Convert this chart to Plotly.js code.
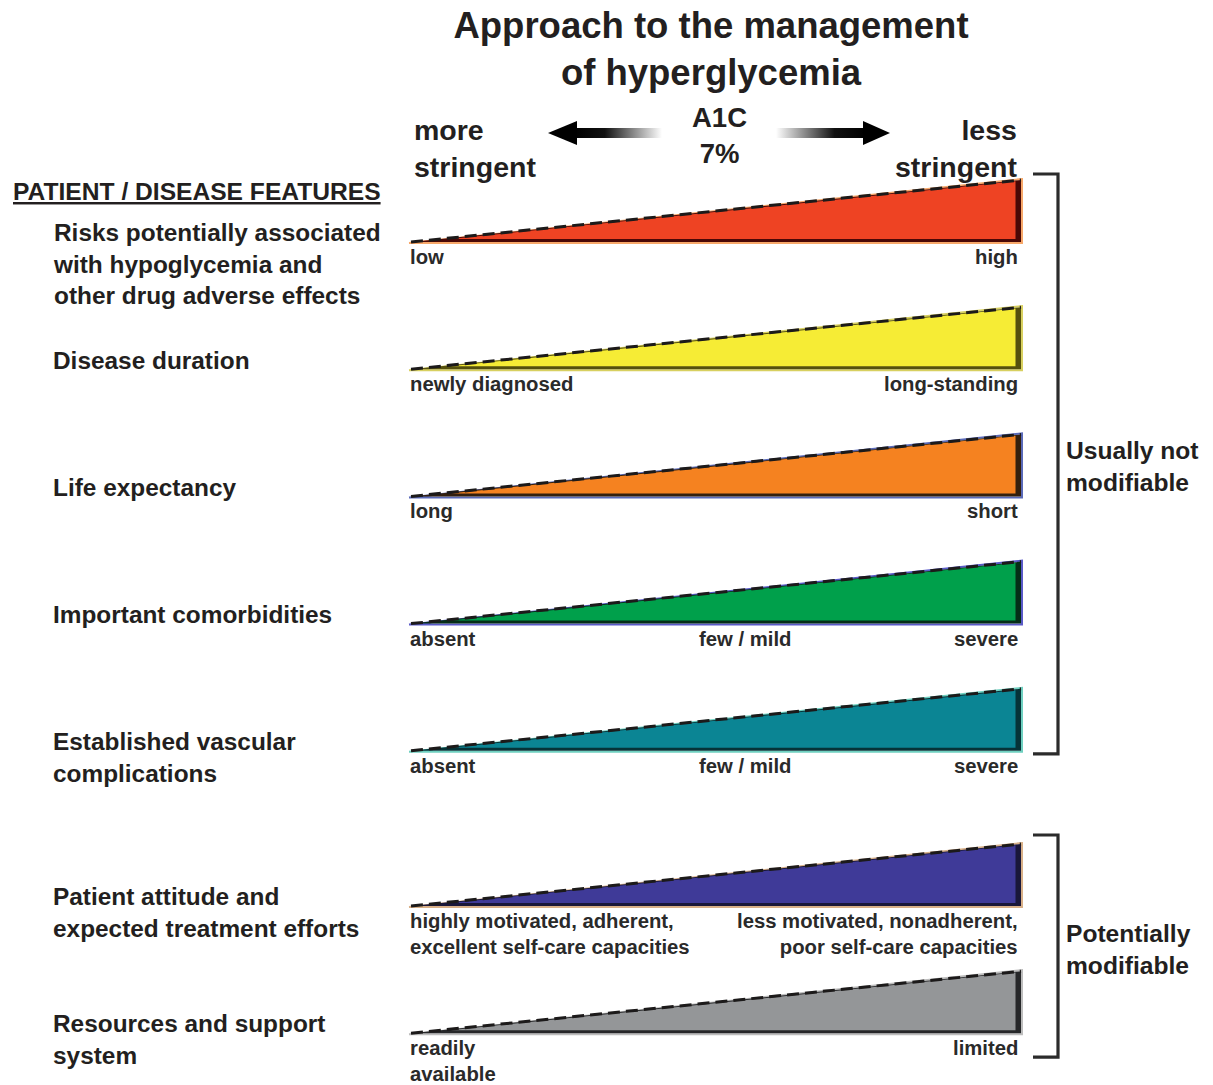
<!DOCTYPE html>
<html>
<head>
<meta charset="utf-8">
<script src="https://cdn.plot.ly/plotly-3.0.1.min.js"></script>
<style>html,body{margin:0;padding:0;background:#fff;}#chart{width:1213px;height:1085px;}</style>
</head>
<body>
<div id="chart"></div>
<script>
// ---------- data ----------
const chartTitle = 'Approach to the management<br>of hyperglycemia';
const headerLabel = 'PATIENT / DISEASE FEATURES';
const axisLeftLabel = 'more<br>stringent';
const axisRightLabel = 'less<br>stringent';
const centerLabel = 'A1C<br>7%';
const features = [
  'Risks potentially associated<br>with hypoglycemia and<br>other drug adverse effects',
  'Disease duration',
  'Life expectancy',
  'Important comorbidities',
  'Established vascular<br>complications',
  'Patient attitude and<br>expected treatment efforts',
  'Resources and support<br>system'
];
const lowLabels = [
  'low', 'newly diagnosed', 'long', 'absent', 'absent',
  'highly motivated, adherent,<br>excellent self\u2011care capacities',
  'readily<br>available'
];
const midLabels = ['', '', '', 'few / mild', 'few / mild', '', ''];
const highLabels = [
  'high', 'long\u2011standing', 'short', 'severe', 'severe',
  'less motivated, nonadherent,<br>poor self\u2011care capacities',
  'limited'
];
const fillColors = ['#EE4323', '#F6EC35', '#F58220', '#00A04B', '#0B8594', '#3F3A98', '#949698'];
const edgeColors = ['#4a0806', '#55500e', '#33200e', '#052e17', '#063338', '#19173a', '#262729'];
const glowColors = ['#f7a86a', '#d8d060', '#5a6ab8', '#5a5ac8', '#6fd0c0', '#d8b088', '#bdbdbd'];
const groupLabels = ['Usually not<br>modifiable', 'Potentially<br>modifiable'];
const groupRows = [[0, 4], [5, 6]];

// ---------- layout geometry (pixel space) ----------
const W = 1213, H = 1085;
const X0 = 411, X1 = 1021;          // wedge extent
const BASE0 = 242, STEP = 127.2, GAP = 28, WEDGE_H = 62;
const BEVEL = 4;
const FONT = '"Liberation Sans", Arial, Helvetica, sans-serif';
const INK = '#231f20';

function rowBase(i) { return BASE0 + i * STEP + (i >= 5 ? GAP : 0); }
function nLines(s) { return s ? s.split('<br>').length : 0; }
function bold(s) { return '<b>' + s.replace(/<br>/g, '</b><br><b>') + '</b>'; }

const traces = [];
const annotations = [];

features.forEach((f, i) => {
  const yb = rowBase(i), yt = yb - WEDGE_H;
  const w = X1 - X0, h = WEDGE_H;
  traces.push({type: 'scatter', mode: 'lines', x: [X0 - 2, X1 + 1, X1 + 1, X0 - 2], y: [yb + 1, yb + 1, yt - 1, yb + 1],
    line: {color: glowColors[i], width: 2}, hoverinfo: 'skip'});
  traces.push({type: 'scatter', mode: 'lines', x: [X0, X1, X1, X0], y: [yb, yb, yt, yb],
    fill: 'toself', fillcolor: edgeColors[i], line: {width: 0, color: edgeColors[i]}, hoverinfo: 'skip'});
  const xi = X0 + BEVEL * w / h;
  traces.push({type: 'scatter', mode: 'lines',
    x: [xi, X1 - BEVEL - 1.5, X1 - BEVEL - 1.5, xi],
    y: [yb - BEVEL + 1, yb - BEVEL + 1, yt + (BEVEL + 1.5) * h / w + 0.8, yb - BEVEL + 1],
    fill: 'toself', fillcolor: fillColors[i], line: {width: 0, color: fillColors[i]}, hoverinfo: 'skip'});
  traces.push({type: 'scatter', mode: 'lines', x: [X0, X1], y: [yb, yt],
    line: {color: '#1c1a1a', width: 3, dash: '12px,6px'}, hoverinfo: 'skip'});

  const n = nLines(f);
  annotations.push({x: 51, y: yb - 9 + (n - 1) * 31 / 2, xref: 'x', yref: 'y', xanchor: 'left', yanchor: 'middle',
    text: bold(f), showarrow: false, align: 'left',
    font: {family: FONT, size: 24.4, color: INK}});
  const labelFont = {family: FONT, size: 20.3, color: '#2a2a2a'};
  const lo = lowLabels[i], hi = highLabels[i], mid = midLabels[i];
  if (lo) annotations.push({x: X0 - 3, y: yb + 15 + (nLines(lo) - 1) * 13, xref: 'x', yref: 'y', xanchor: 'left', yanchor: 'middle',
    text: bold(lo), showarrow: false, align: 'left', font: labelFont});
  if (hi) annotations.push({x: X1 - 1, y: yb + 15 + (nLines(hi) - 1) * 13, xref: 'x', yref: 'y', xanchor: 'right', yanchor: 'middle',
    text: bold(hi), showarrow: false, align: 'right', font: labelFont});
  if (mid) annotations.push({x: 745, y: yb + 15, xref: 'x', yref: 'y', xanchor: 'center', yanchor: 'middle',
    text: bold(mid), showarrow: false, font: labelFont});
});

// brackets
const bracketPad = [[6, 3], [9, 24]];
groupRows.forEach((g, k) => {
  const top = rowBase(g[0]) - WEDGE_H - bracketPad[k][0];
  const bot = rowBase(g[1]) + bracketPad[k][1];
  traces.push({type: 'scatter', mode: 'lines', x: [1033, 1058, 1058, 1033], y: [top, top, bot, bot],
    line: {color: '#2b2b2b', width: 3.2}, hoverinfo: 'skip'});
  annotations.push({x: 1064, y: (top + bot) / 2 + 3, xref: 'x', yref: 'y', xanchor: 'left', yanchor: 'middle',
    text: bold(groupLabels[k]), showarrow: false, align: 'left',
    font: {family: FONT, size: 24.6, color: INK}});
});

// stringency arrows
const AY = 133;
traces.push({type: 'scatter', mode: 'lines', x: [574, 662, 662, 574, 574], y: [AY - 5, AY - 5, AY + 5, AY + 5, AY - 5],
  fill: 'toself', fillgradient: {type: 'horizontal', colorscale: [[0, '#000000'], [0.35, '#111111'], [1, '#ffffff']]},
  line: {width: 0}, hoverinfo: 'skip'});
traces.push({type: 'scatter', mode: 'lines', x: [548, 577, 577, 548], y: [AY, AY - 12, AY + 12, AY],
  fill: 'toself', fillcolor: '#000', line: {width: 0, color: '#000'}, hoverinfo: 'skip'});
traces.push({type: 'scatter', mode: 'lines', x: [776, 866, 866, 776, 776], y: [AY - 5, AY - 5, AY + 5, AY + 5, AY - 5],
  fill: 'toself', fillgradient: {type: 'horizontal', colorscale: [[0, '#ffffff'], [0.65, '#111111'], [1, '#000000']]},
  line: {width: 0}, hoverinfo: 'skip'});
traces.push({type: 'scatter', mode: 'lines', x: [890, 863, 863, 890], y: [AY, AY - 12, AY + 12, AY],
  fill: 'toself', fillcolor: '#000', line: {width: 0, color: '#000'}, hoverinfo: 'skip'});

// top labels
annotations.push({x: 412, y: 148, xref: 'x', yref: 'y', xanchor: 'left', yanchor: 'middle', align: 'left',
  text: bold(axisLeftLabel), showarrow: false, font: {family: FONT, size: 28.5, color: INK}});
annotations.push({x: 1019, y: 148, xref: 'x', yref: 'y', xanchor: 'right', yanchor: 'middle', align: 'right',
  text: bold(axisRightLabel), showarrow: false, font: {family: FONT, size: 28.5, color: INK}});
annotations.push({x: 719, y: 135, xref: 'x', yref: 'y', xanchor: 'center', yanchor: 'middle', align: 'center',
  text: bold(centerLabel), showarrow: false, font: {family: FONT, size: 27.5, color: INK}});
annotations.push({x: 11, y: 191, xref: 'x', yref: 'y', xanchor: 'left', yanchor: 'middle',
  text: bold(headerLabel), showarrow: false,
  font: {family: FONT, size: 24.6, color: INK, lineposition: 'under'}});

const layout = {
  width: W, height: H,
  margin: {l: 0, r: 0, t: 0, b: 0},
  paper_bgcolor: '#fff', plot_bgcolor: '#fff',
  showlegend: false,
  title: {text: bold(chartTitle), x: 711 / W, xanchor: 'center', xref: 'paper',
    y: 1 - 38 / H, yanchor: 'top', yref: 'container',
    font: {family: FONT, size: 36.5, color: INK}},
  xaxis: {range: [0, W], visible: false, fixedrange: true},
  yaxis: {range: [H, 0], visible: false, fixedrange: true},
  annotations: annotations
};

Plotly.newPlot('chart', traces, layout, {staticPlot: true, displayModeBar: false});
</script>
</body>
</html>
